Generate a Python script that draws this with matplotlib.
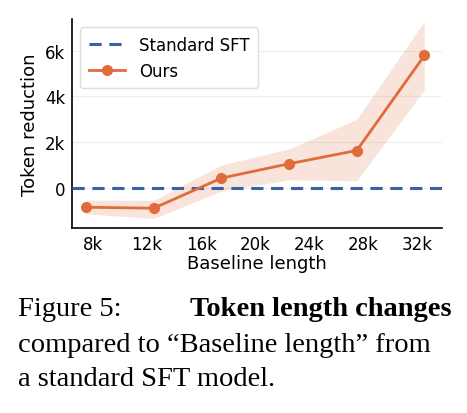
import numpy as np
import matplotlib.pyplot as plt

# baseline length (k tokens) and token reduction (k tokens)
baseline_k = [7.5, 12.5, 17.5, 22.5, 27.5, 32.5]
reduction_k = [-0.86, -0.9, 0.42, 1.05, 1.63, 5.8]
band_low_k = [-1.15, -1.35, -0.15, 0.35, 0.3, 4.3]
band_high_k = [-0.55, -0.55, 1.0, 1.7, 3.0, 7.3]
xticks_k = [8, 12, 16, 20, 24, 28, 32]
yticks_k = [0, 2, 4, 6]

orange = "#e06c3c"
blue = "#3a5fad"

fig = plt.figure(figsize=(4.67, 4.14), dpi=100)
ax = fig.add_axes([72 / 467, 1 - 229 / 414, 370 / 467, 209 / 414])

ax.axhline(0, color=blue, lw=2.2, ls=(0, (4, 2.5)), label="Standard SFT", zorder=3)
ax.fill_between(baseline_k, band_low_k, band_high_k, color=orange, alpha=0.18, lw=0)
ax.plot(baseline_k, reduction_k, color=orange, lw=2, marker="o", ms=7, label="Ours", zorder=4)

ax.set_xlim(6.45, 33.8)
ax.set_ylim(-1.77, 7.4)
ax.set_xticks(xticks_k)
ax.set_xticklabels([f"{v}k" for v in xticks_k])
ax.set_yticks(yticks_k)
ax.set_yticklabels(["0"] + [f"{v}k" for v in yticks_k[1:]])
ax.tick_params(length=0, labelsize=12, pad=5)
ax.grid(axis="y", color="#eeeeee", lw=0.8)
ax.set_axisbelow(True)
for s in ["top", "right"]:
    ax.spines[s].set_visible(False)
ax.spines["left"].set_linewidth(1.2)
ax.spines["bottom"].set_linewidth(1.2)
ax.set_xlabel("Baseline length", fontsize=13, labelpad=1)
ax.set_ylabel("Token reduction", fontsize=13, labelpad=4)
ax.legend(loc="upper left", fontsize=12, handlelength=2.2, borderpad=0.5, framealpha=1, edgecolor="#dddddd")

serif = "Liberation Serif"
fs = 20.5
fig.text(18 / 467, 1 - 310 / 414, "Figure 5:", family=serif, fontsize=fs, va="center")
fig.text(452 / 467, 1 - 310 / 414, "Token length changes", family=serif, fontsize=fs,
         fontweight="bold", va="center", ha="right")
fig.text(18 / 467, 1 - 345 / 414, "compared to \u201cBaseline length\u201d from",
         family=serif, fontsize=fs, va="center")
fig.text(18 / 467, 1 - 380 / 414, "a standard SFT model.", family=serif, fontsize=fs, va="center")

fig.savefig("out.png", dpi=100)
